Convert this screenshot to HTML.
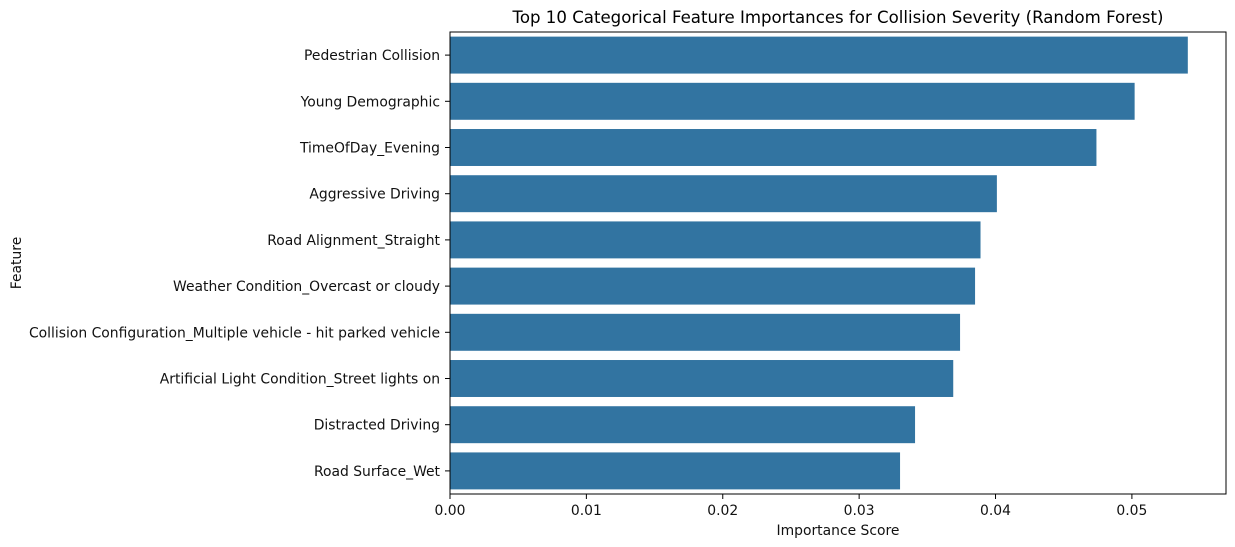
<!DOCTYPE html>
<html><head><meta charset="utf-8"><style>
body{margin:0;background:#fff}
svg{display:block;font-family:"DejaVu Sans","Liberation Sans",sans-serif}
</style></head><body>
<svg id="c" width="1235" height="547"></svg>
<script>
const categories=["Pedestrian Collision","Young Demographic","TimeOfDay_Evening","Aggressive Driving","Road Alignment_Straight","Weather Condition_Overcast or cloudy","Collision Configuration_Multiple vehicle - hit parked vehicle","Artificial Light Condition_Street lights on","Distracted Driving","Road Surface_Wet"];
const values=[0.0541,0.0502,0.0474,0.0401,0.0389,0.0385,0.0374,0.0369,0.0341,0.0330];
const xTicks=[0,0.01,0.02,0.03,0.04,0.05];
const xTickLabels=["0.00","0.01","0.02","0.03","0.04","0.05"];
const NS="http://www.w3.org/2000/svg",svg=document.getElementById('c');
const L=450,R=1226,T=32,B=494,xMax=0.0569;
const xs=v=>L+v/xMax*(R-L);
const band=(B-T)/categories.length;
const ys=i=>T+i*band;
function mk(t,a,p){const e=document.createElementNS(NS,t);for(const k in a)e.setAttribute(k,a[k]);(p||svg).appendChild(e);return e;}
categories.forEach((c,i)=>{
 const r=mk('rect',{x:L,y:ys(i)+band*0.1,width:xs(values[i])-L,height:band*0.8,fill:'#3274a1'});
 
 
 const tk=mk('line',{x1:L-5,x2:L,y1:ys(i)+band/2,y2:ys(i)+band/2,stroke:'#000','stroke-width':1});
 
 
 const t=mk('text',{x:L-10,y:ys(i)+band/2+5,'text-anchor':'end','font-size':13.9,fill:'#111'});
 t.textContent=c;
 
 
});
xTicks.forEach((v,i)=>{
 const tk=mk('line',{x1:xs(v),x2:xs(v),y1:B,y2:B+5,stroke:'#000','stroke-width':1});
 
 
 const t=mk('text',{x:xs(v),y:B+21,'text-anchor':'middle','font-size':13.9,fill:'#111'});
 t.textContent=xTickLabels[i];
 
 
});
const fr=mk('rect',{x:L,y:T,width:R-L,height:B-T,fill:'none',stroke:'#000','stroke-width':1});


const ti=mk('text',{x:(L+R)/2,y:23,'text-anchor':'middle','font-size':16.6,fill:'#000'});
ti.textContent="Top 10 Categorical Feature Importances for Collision Severity (Random Forest)";


const xl=mk('text',{x:(L+R)/2,y:535,'text-anchor':'middle','font-size':13.9,fill:'#111'});
xl.textContent="Importance Score";


const yl=mk('text',{x:21,y:(T+B)/2,'text-anchor':'middle','font-size':13.9,fill:'#111',transform:`rotate(-90 21 ${(T+B)/2})`});
yl.textContent="Feature";


</script>
</body></html>
